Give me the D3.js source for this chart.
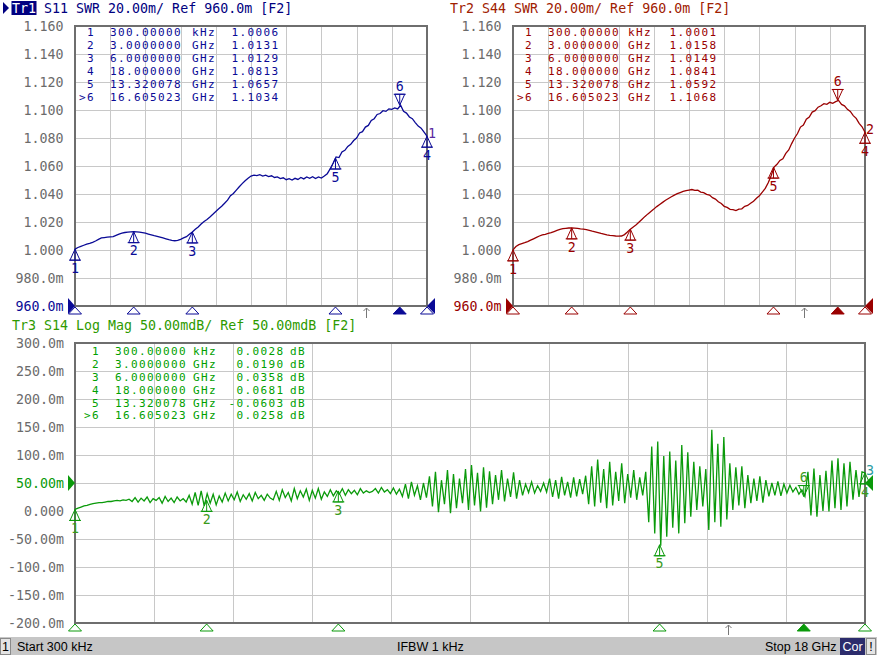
<!DOCTYPE html>
<html><head><meta charset="utf-8">
<script src="https://cdn.jsdelivr.net/npm/d3@7"></script>
<style>
body{margin:0;background:#fff}
svg{display:block}
text{font-family:"DejaVu Sans Mono",monospace;font-size:13.3px;white-space:pre}
text.tbl{font-size:11px;letter-spacing:1.38px}
</style>
</head><body><svg id="c" width="877" height="655"></svg>
<script>
// ---------------- data ----------------
const fStartGHz = 0.0003, fStopGHz = 18;
const stimulusArrowGHz = 14.87;
const gridFreqs = [0, 1.8, 3.6, 5.4, 7.2, 9, 10.8, 12.6, 14.4, 16.2, 18];

const markerLabels = ["1", "2", "3", "4", "5", ">6"];
const markerIds = ["1", "2", "3", "4", "5", "6"];
const markerFreqGHz = [0.0003, 3, 6, 18, 13.320078, 16.605023];
const markerFreqText = ["300.00000", "3.0000000", "6.0000000", "18.000000", "13.320078", "16.605023"];
const markerFreqUnit = ["kHz", "GHz", "GHz", "GHz", "GHz", "GHz"];
const activeMarker = 5;

const tr1MarkerVals = [1.0006, 1.0131, 1.0129, 1.0813, 1.0657, 1.1034];
const tr2MarkerVals = [1.0001, 1.0158, 1.0149, 1.0841, 1.0592, 1.1068];
const tr3MarkerVals = [0.0028, 0.0190, 0.0358, 0.0681, -0.0603, 0.0258]; // dB
const tr1MarkerText = ["1.0006", "1.0131", "1.0129", "1.0813", "1.0657", "1.1034"];
const tr2MarkerText = ["1.0001", "1.0158", "1.0149", "1.0841", "1.0592", "1.1068"];
const tr3MarkerText = ["0.0028", "0.0190", "0.0358", "0.0681", "-0.0603", "0.0258"];

const swrTicks = [1.16, 1.14, 1.12, 1.10, 1.08, 1.06, 1.04, 1.02, 1.00, 0.98, 0.96];
const swrTickLabels = ["1.160", "1.140", "1.120", "1.100", "1.080", "1.060", "1.040", "1.020", "1.000", "980.0m", "960.0m"];
const logTicks = [300, 250, 200, 150, 100, 50, 0, -50, -100, -150, -200]; // mdB
const logTickLabels = ["300.0m", "250.0m", "200.0m", "150.0m", "100.0m", "50.00m", "0.000", "-50.00m", "-100.0m", "-150.0m", "-200.0m"];

// Tr1 S11 SWR (121 sweep points)
const tr1Swr = [1.0006,1.0018,1.0026,1.0034,1.0042,1.0048,1.0055,1.0064,1.0076,1.0086,
1.0089,1.0092,1.0094,1.0096,1.0105,1.0114,1.0121,1.0125,1.0128,1.0130,
1.0131,1.0129,1.0127,1.0124,1.0120,1.0114,1.0108,1.0102,1.0097,1.0092,
1.0086,1.0080,1.0074,1.0069,1.0066,1.0068,1.0076,1.0086,1.0095,1.0112,
1.0129,1.0148,1.0165,1.0185,1.0204,1.0218,1.0236,1.0255,1.0275,1.0294,
1.0312,1.0334,1.0356,1.0388,1.0404,1.0428,1.0452,1.0474,1.0495,1.0512,
1.0528,1.0535,1.0531,1.0538,1.0528,1.0534,1.0524,1.0530,1.0518,1.0522,
1.0510,1.0516,1.0502,1.0510,1.0500,1.0512,1.0504,1.0518,1.0508,1.0522,
1.0512,1.0524,1.0510,1.0522,1.0514,1.0528,1.0545,1.0580,1.0620,1.0665,
1.0660,1.0700,1.0712,1.0740,1.0755,1.0782,1.0800,1.0836,1.0845,1.0878,
1.0890,1.0925,1.0938,1.0968,1.0975,1.0995,1.0990,1.1008,1.1004,1.1015,
1.1008,1.1034,1.0990,1.0978,1.0950,1.0938,1.0910,1.0885,1.0870,1.0842,
1.0813];

// Tr2 S44 SWR (121 sweep points)
const tr2Swr = [1.0001,1.0025,1.0038,1.0045,1.0052,1.0060,1.0070,1.0080,1.0090,1.0100,
1.0108,1.0112,1.0118,1.0124,1.0132,1.0140,1.0147,1.0152,1.0155,1.0157,
1.0158,1.0156,1.0154,1.0151,1.0149,1.0146,1.0140,1.0134,1.0129,1.0124,
1.0118,1.0113,1.0108,1.0104,1.0102,1.0100,1.0099,1.0100,1.0110,1.0128,
1.0149,1.0165,1.0180,1.0200,1.0220,1.0240,1.0258,1.0275,1.0292,1.0310,
1.0325,1.0340,1.0355,1.0368,1.0380,1.0392,1.0402,1.0410,1.0418,1.0424,
1.0428,1.0432,1.0426,1.0427,1.0414,1.0410,1.0398,1.0392,1.0374,1.0364,
1.0344,1.0332,1.0312,1.0304,1.0290,1.0289,1.0282,1.0292,1.0294,1.0312,
1.0318,1.0334,1.0348,1.0370,1.0388,1.0414,1.0440,1.0480,1.0530,1.0592,
1.0612,1.0640,1.0652,1.0690,1.0715,1.0760,1.0800,1.0832,1.0878,1.0892,
1.0935,1.0950,1.0985,1.0995,1.1020,1.1030,1.1045,1.1040,1.1055,1.1048,
1.1060,1.1068,1.1040,1.1030,1.1005,1.0990,1.0960,1.0940,1.0905,1.0880,
1.0841];

// Tr3 S14 Log Mag in mdB (264 sweep points)
const tr3LogMag = [3,5,7,9,10,12,13,14,15,15,16,17,17,18,19,18,20,19,21,
17,24,16,23,18,25,15,22,19,24,14,26,17,23,15,25,18,22,16,
28,12,33,10,36,9,31,14,30,11,27,
16,32,18,30,20,34,17,29,21,31,18,33,22,28,19,30,23,
20,35,19,38,24,33,18,40,22,36,25,39,19,37,23,40,21,34,26,38,
27,36,30,40,28,38,31,37,29,40,32,36,33,
35,40,32,42,34,38,31,41,30,39,
26,48,22,52,28,45,20,50,24,
62,8,70,-2,55,12,73,-4,66,5,58,
14,75,2,82,10,68,-1,78,6,71,12,
64,20,73,17,58,25,69,22,55,28,
48,33,52,32,45,35,50,34,
58,25,55,22,61,28,52,24,60,26,57,30,63,
12,80,8,92,15,75,5,88,10,70,18,85,14,
66,24,73,20,60,28,70,
-20,115,-40,124,-62,98,-46,106,-30,90,-40,118,-22,105,-10,88,2,80,8,75,
-34,145,-20,120,-28,132,-15,85,2,78,10,80,5,64,14,58,18,62,15,55,
26,50,28,53,27,48,32,46,34,42,30,38,26,70,-8,76,-10,64,0,72,
-1,90,5,94,2,85,8,88,20,73,25,70,68];

// ---------------- drawing ----------------
const svg = d3.select("#c");
const GRID = "#c8c8c8", BORDER = "#6e6e6e", TICK = "#6b6b6b";

function sweepFreq(i, n) { return fStartGHz + i * (fStopGHz - fStartGHz) / (n - 1); }

function drawPanel(c) {
  const x = d3.scaleLinear().domain([0, fStopGHz]).range([c.x0, c.x1]);
  const y = d3.scaleLinear().domain(c.yDomain).range([c.y1, c.y0]);
  const g = svg.append("g");

  // grid
  g.selectAll(".hg").data(c.ticks).join("line")
    .attr("x1", c.x0).attr("x2", c.x1).attr("y1", d => y(d)).attr("y2", d => y(d))
    .attr("stroke", GRID).attr("stroke-width", 1).attr("shape-rendering", "crispEdges");
  g.selectAll(".vg").data(gridFreqs).join("line")
    .attr("x1", d => Math.round(x(d)) + 0.5).attr("x2", d => Math.round(x(d)) + 0.5)
    .attr("y1", c.y0).attr("y2", c.y1)
    .attr("stroke", GRID).attr("stroke-width", 1).attr("shape-rendering", "crispEdges");

  // border
  g.append("rect").attr("x", c.x0).attr("y", c.y0).attr("width", c.x1 - c.x0).attr("height", c.y1 - c.y0)
    .attr("fill", "none").attr("stroke", BORDER).attr("stroke-width", 1.2).attr("shape-rendering", "crispEdges");

  // y axis labels
  const ax = d3.axisLeft(y).tickValues(c.ticks).tickFormat((d, i) => c.tickLabels[i]).tickSize(0).tickPadding(c.pad);
  const axg = svg.append("g").attr("transform", `translate(${c.x0},0)`).call(ax);
  axg.select(".domain").remove();
  axg.selectAll("text").attr("font-family", '"DejaVu Sans Mono",monospace').attr("font-size", "13.3px")
    .attr("fill", (d, i) => i === c.refIdx ? c.color : TICK);

  // marker table
  const t = svg.append("g").attr("fill", c.tableColor);
  markerLabels.forEach((lab, i) => {
    const ty = c.tableY + i * c.rowH;
    t.append("text").attr("class", "tbl").attr("x", c.tx[0]).attr("y", ty).attr("dy", "0.36em").attr("text-anchor", "end").text(lab);
    t.append("text").attr("class", "tbl").attr("x", c.tx[1]).attr("y", ty).attr("dy", "0.36em").text(markerFreqText[i]);
    t.append("text").attr("class", "tbl").attr("x", c.tx[2]).attr("y", ty).attr("dy", "0.36em").text(markerFreqUnit[i]);
    t.append("text").attr("class", "tbl").attr("x", c.tx[3]).attr("y", ty).attr("dy", "0.36em").attr("text-anchor", "end").text(c.valText[i]);
    if (c.unit) t.append("text").attr("class", "tbl").attr("x", c.tx[4]).attr("y", ty).attr("dy", "0.36em").text(c.unit);
  });

  // trace
  const n = c.data.length;
  const line = d3.line().x((d, i) => x(sweepFreq(i, n))).y(d => y(d));
  svg.append("path").datum(c.data).attr("d", line).attr("fill", "none")
    .attr("stroke", c.color).attr("stroke-width", c.lw).attr("stroke-linejoin", "miter");

  // markers on trace
  const mg = svg.append("g");
  markerFreqGHz.forEach((f, i) => {
    const mx = x(f), my = y(c.markerVals[i]);
    const down = i === activeMarker;
    const h = 11, w = 5;
    const s = down ? -1 : 1;
    mg.append("path").attr("d", `M${mx},${my}L${mx - w},${my + s * h}L${mx + w},${my + s * h}Z`)
      .attr("fill", "none").attr("stroke", c.color).attr("stroke-width", 1);
    mg.append("line").attr("x1", mx).attr("x2", mx).attr("y1", my).attr("y2", my + s * h)
      .attr("stroke", c.color).attr("stroke-width", 1);
    mg.append("line").attr("x1", mx - w - 1).attr("x2", mx + w + 1).attr("y1", my + s * h).attr("y2", my + s * h)
      .attr("stroke", c.color).attr("stroke-width", 1);
    mg.append("text").attr("x", mx).attr("y", my + s * (h + 8)).attr("dy", "0.35em")
      .attr("text-anchor", "middle").attr("fill", c.markerTextColor).text(markerIds[i]);
  });
  if (c.edgeLabel) {
    svg.append("text").attr("x", c.x1 + 1).attr("y", y(c.markerVals[3]) - 3).attr("dy", "0.35em")
      .attr("fill", c.edgeColor).text(c.edgeLabel);
  }

  // marker indicators below the grid
  const ig = svg.append("g");
  markerFreqGHz.forEach((f, i) => {
    const mx = x(f), b = c.y1 + 1;
    ig.append("path").attr("d", `M${mx},${b}L${mx - 6.5},${b + 7}L${mx + 6.5},${b + 7}Z`)
      .attr("fill", i === activeMarker ? c.color : "#fff").attr("stroke", c.color).attr("stroke-width", 1);
  });
  // stimulus arrow
  const sx = Math.round(x(stimulusArrowGHz)) + 0.5;
  ig.append("path").attr("d", `M${sx},${c.y1 + 2}V${c.y1 + 12}M${sx - 3},${c.y1 + 5}L${sx},${c.y1 + 2}L${sx + 3},${c.y1 + 5}`)
    .attr("fill", "none").attr("stroke", "#777").attr("stroke-width", 1);

  // reference level indicators
  const ry = y(c.refVal);
  svg.append("path").attr("d", `M${c.x0 - 7},${ry - 8}L${c.x0},${ry}L${c.x0 - 7},${ry + 8}Z`).attr("fill", c.color);
  svg.append("path").attr("d", `M${c.x1 + 8},${ry - 8}L${c.x1},${ry}L${c.x1 + 8},${ry + 8}Z`).attr("fill", c.color);
}

function title(xp, yp, color, tr, rest, highlighted) {
  const tg = svg.append("g");
  if (highlighted) {
    tg.append("path").attr("d", `M${xp - 9},${yp - 6}L${xp - 3},${yp}L${xp - 9},${yp + 6}Z`).attr("fill", color);
    tg.append("rect").attr("x", xp - 0.5).attr("y", yp - 7).attr("width", 25).attr("height", 14).attr("fill", color);
  }
  const tx = tg.append("text").attr("x", xp).attr("y", yp).attr("dy", "0.35em").attr("fill", color);
  tx.append("tspan").attr("fill", highlighted ? "#fff" : color).text(tr);
  tx.append("tspan").text(rest);
}

const C1 = "#0a0a96", C2 = "#9a0000", C3 = "#0a9a0a";

drawPanel({
  x0: 75, x1: 427, y0: 26, y1: 306, yDomain: [0.96, 1.16], ticks: swrTicks, tickLabels: swrTickLabels,
  refIdx: 10, refVal: 0.96, pad: 11.5, color: C1, tableColor: C1, markerTextColor: C1, lw: 1.3,
  data: tr1Swr, markerVals: tr1MarkerVals, valText: tr1MarkerText,
  tableY: 32, rowH: 13.1, tx: [95, 110, 192, 279.5],
  edgeLabel: "1", edgeColor: "#5a2aa0"
});
drawPanel({
  x0: 513, x1: 865, y0: 26, y1: 306, yDomain: [0.96, 1.16], ticks: swrTicks, tickLabels: swrTickLabels,
  refIdx: 10, refVal: 0.96, pad: 11.5, color: C2, tableColor: C2, markerTextColor: C2, lw: 1.3,
  data: tr2Swr, markerVals: tr2MarkerVals, valText: tr2MarkerText,
  tableY: 32, rowH: 13.1, tx: [533, 548, 628, 717.5],
  edgeLabel: "2", edgeColor: C2
});
drawPanel({
  x0: 75, x1: 865, y0: 343, y1: 623, yDomain: [-200, 300], ticks: logTicks, tickLabels: logTickLabels,
  refIdx: 5, refVal: 50, pad: 11, color: C3, tableColor: "#00a000", markerTextColor: "#3a9a1a", lw: 1.3,
  data: tr3LogMag, markerVals: tr3MarkerVals.map(v => v * 1000), valText: tr3MarkerText,
  tableY: 351, rowH: 12.9, tx: [100, 115, 193, 284.5, 290], unit: "dB",
  edgeLabel: "3", edgeColor: "#2a9aa0"
});

title(12, 8, "#000080", "Tr1", " S11 SWR 20.00m/ Ref 960.0m [F2]", true);
title(450, 8, "#a02000", "Tr2", " S44 SWR 20.00m/ Ref 960.0m [F2]", false);
title(12, 325, "#2e9a00", "Tr3", " S14 Log Mag 50.00mdB/ Ref 50.00mdB [F2]", false);

// status bar
const sb = svg.append("g");
sb.append("rect").attr("x", 0).attr("y", 637).attr("width", 877).attr("height", 18).attr("fill", "#c6c6c6");
sb.append("rect").attr("x", 0.5).attr("y", 638.5).attr("width", 10).attr("height", 16).attr("fill", "#e4e4e4").attr("stroke", "#8a8a8a");
sb.append("rect").attr("x", 840).attr("y", 638).attr("width", 25).attr("height", 17).attr("fill", "#2c2c6c");
sb.append("rect").attr("x", 866.5).attr("y", 638.5).attr("width", 9).attr("height", 16).attr("fill", "#e4e4e4").attr("stroke", "#8a8a8a");
const st = [["1", 5.5, "middle", "#000"], ["Start 300 kHz", 17, "start", "#000"], ["IFBW 1 kHz", 397, "start", "#000"],
            ["Stop 18 GHz", 765, "start", "#000"], ["Cor", 852.5, "middle", "#fff"], ["!", 871, "middle", "#000"]];
st.forEach(s => sb.append("text").attr("x", s[1]).attr("y", 647).attr("dy", "0.35em").attr("text-anchor", s[2])
  .attr("fill", s[3]).style("font-family", '"Liberation Sans",Arial,sans-serif').style("font-size", "12.5px").text(s[0]));
</script></body></html>
